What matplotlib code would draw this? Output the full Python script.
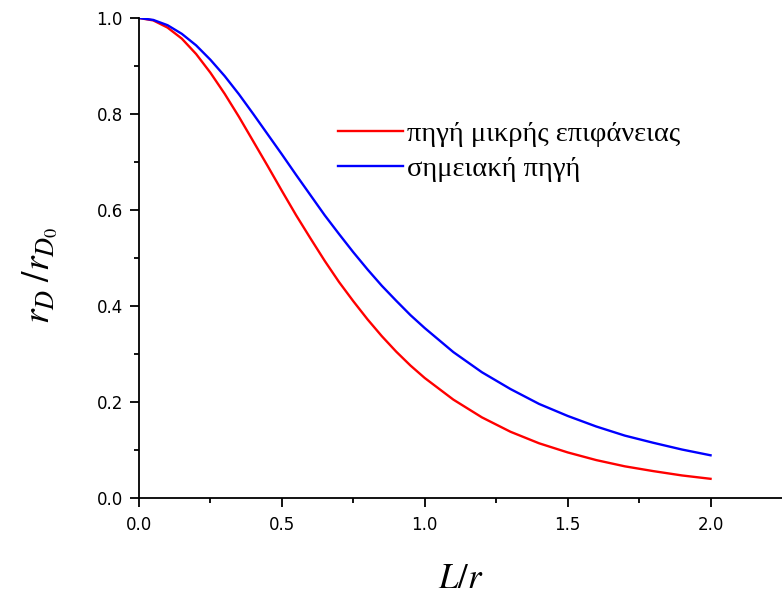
import matplotlib
matplotlib.use('Agg')
import matplotlib.pyplot as plt

# L/r values
L_R = [0.0, 0.05, 0.1, 0.15, 0.2, 0.25, 0.3, 0.35, 0.4, 0.45, 0.5,
       0.55, 0.6, 0.65, 0.7, 0.75, 0.8, 0.85, 0.9, 0.95, 1.0,
       1.1, 1.2, 1.3, 1.4, 1.5, 1.6, 1.7, 1.8, 1.9, 2.0]

# πηγή μικρής επιφάνειας (red)
SMALL_AREA = [1.000, 0.995, 0.980, 0.957, 0.925, 0.886, 0.842, 0.794,
              0.743, 0.692, 0.640, 0.589, 0.541, 0.494, 0.450, 0.410,
              0.372, 0.337, 0.305, 0.276, 0.250,
              0.205, 0.168, 0.138, 0.114, 0.095,
              0.079, 0.066, 0.056, 0.047, 0.040]

# σημειακή πηγή (blue)
POINT = [1.000, 0.996, 0.985, 0.967, 0.943, 0.913, 0.879, 0.841,
         0.800, 0.758, 0.716, 0.673, 0.631, 0.589, 0.550, 0.512,
         0.476, 0.442, 0.411, 0.381, 0.354,
         0.304, 0.262, 0.227, 0.196, 0.171,
         0.149, 0.130, 0.115, 0.101, 0.089]

LABELS = ['πηγή μικρής επιφάνειας', 'σημειακή πηγή']

plt.rcParams['mathtext.fontset'] = 'stix'

fig = plt.figure(figsize=(7.82, 5.94), dpi=100)
ax = fig.add_axes([0.1777, 0.1616, 0.8223, 0.8081])

ax.plot(L_R, SMALL_AREA, color='#ff0000', lw=1.7, label=LABELS[0])
ax.plot(L_R, POINT, color='#0000ff', lw=1.7, label=LABELS[1])

ax.set_xlim(0, 2.25)
ax.set_ylim(0, 1.0)
ax.set_xticks([0.0, 0.5, 1.0, 1.5, 2.0])
ax.set_xticks([0.25, 0.75, 1.25, 1.75], minor=True)
ax.set_yticks([0.0, 0.2, 0.4, 0.6, 0.8, 1.0])
ax.set_yticks([0.1, 0.3, 0.5, 0.7, 0.9], minor=True)
ax.xaxis.set_major_formatter(plt.FormatStrFormatter('%.1f'))
ax.yaxis.set_major_formatter(plt.FormatStrFormatter('%.1f'))

for s in ['top', 'right']:
    ax.spines[s].set_visible(False)
for s in ['left', 'bottom']:
    ax.spines[s].set_linewidth(1.3)

ax.tick_params(which='major', direction='out', length=6.5, width=1.3,
               labelsize=12, pad=5)
ax.tick_params(axis='x', which='major', pad=6.5)
ax.tick_params(which='minor', direction='out', length=3.5, width=1.3)

ax.set_xlabel(r'$L/r$', fontsize=25)
ax.xaxis.label.set_va('baseline')
ax.xaxis.set_label_coords(0.5, -0.1875)

ax.set_ylabel(r'$r_{D}\;/r_{D_{\mathit{0}}}$', fontsize=27)
ax.yaxis.set_label_coords(-0.123, 0.465)

leg = ax.legend(loc='upper left', bbox_to_anchor=(0.3095, 0.785), frameon=False,
                prop={'family': 'Liberation Serif', 'size': 20.5},
                handlelength=2.28, handletextpad=0.14, labelspacing=0.3,
                borderaxespad=0, borderpad=0)

fig.savefig('out.png', dpi=100)
